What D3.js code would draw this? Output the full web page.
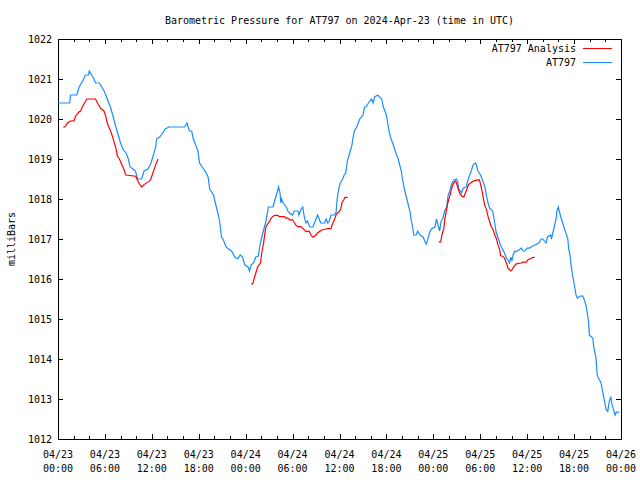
<!DOCTYPE html>
<html>
<head>
<meta charset="utf-8">
<script src="https://cdn.jsdelivr.net/npm/d3@7"></script>
<style>
body { margin: 0; background: #fff; }
text { font-family: "DejaVu Sans Mono", monospace; font-size: 10px; fill: #000; }
</style>
</head>
<body>
<div id="chart"></div>
<script>
// x = hours since 2024-04-23 00:00 UTC, y = pressure in mbar
var stationData = [
  [0,1020.4],[1.5,1020.4],[1.6,1020.6],[2.4,1020.6],[2.7,1020.8],[3.3,1021.0],[3.5,1021.1],[3.9,1021.1],
  [4.0,1021.2],[4.3,1021.1],[4.6,1021.0],[4.8,1020.9],[5.3,1020.9],[5.6,1020.8],[5.9,1020.7],[6.3,1020.5],
  [6.7,1020.3],[7.0,1020.1],[7.4,1019.8],[7.7,1019.6],[8.0,1019.4],[8.3,1019.25],[8.7,1019.15],[9.0,1019.0],
  [9.2,1018.8],[9.6,1018.75],[9.9,1018.7],[10.2,1018.5],[10.7,1018.5],[11.0,1018.7],[11.5,1018.75],[11.9,1018.9],
  [12.2,1019.1],[12.5,1019.3],[12.6,1019.5],[13.0,1019.55],[13.4,1019.65],[13.7,1019.75],[14.2,1019.8],[16.2,1019.8],
  [16.5,1019.9],[16.8,1019.7],[17.1,1019.7],[17.3,1019.5],[17.7,1019.3],[17.9,1019.2],[18.1,1018.9],[18.8,1018.7],
  [19.2,1018.55],[19.4,1018.25],[19.9,1018.1],[20.0,1018.0],[20.5,1017.6],[20.7,1017.4],[20.9,1017.05],[21.1,1017.0],
  [21.5,1016.8],[21.8,1016.75],[22.2,1016.7],[22.6,1016.55],[23.0,1016.5],[23.3,1016.6],[23.6,1016.55],[23.9,1016.35],
  [24.3,1016.3],[24.5,1016.2],[24.7,1016.35],[25.0,1016.4],[25.3,1016.55],[25.6,1016.57],[25.8,1016.8],[26.0,1017.0],
  [26.2,1017.15],[26.4,1017.3],[26.6,1017.45],[26.9,1017.8],[27.5,1017.8],[27.7,1017.95],[28.0,1018.15],[28.2,1018.3],
  [28.4,1018.15],[28.5,1017.9],[28.6,1018.0],[28.8,1017.9],[29.2,1017.8],[29.4,1017.7],[29.6,1017.65],[30.0,1017.6],
  [30.2,1017.7],[30.7,1017.7],[30.8,1017.6],[31.1,1017.75],[31.3,1017.8],[31.5,1017.55],[31.7,1017.4],[31.9,1017.45],
  [32.2,1017.3],[32.6,1017.3],[32.8,1017.4],[33.2,1017.6],[33.4,1017.5],[33.6,1017.4],[34.1,1017.4],[34.3,1017.5],
  [34.5,1017.4],[34.7,1017.45],[34.9,1017.6],[35.3,1017.6],[35.55,1017.65],[35.7,1018.0],[35.9,1018.25],[36.1,1018.4],
  [36.4,1018.5],[36.6,1018.6],[36.8,1018.65],[37.0,1018.95],[37.3,1019.15],[37.6,1019.35],[37.7,1019.5],[37.9,1019.7],
  [38.2,1019.8],[38.4,1019.9],[38.6,1020.0],[39.0,1020.1],[39.2,1020.3],[39.4,1020.3],[39.7,1020.4],[40.1,1020.5],
  [40.3,1020.4],[40.5,1020.55],[40.9,1020.6],[41.1,1020.55],[41.4,1020.5],[41.6,1020.3],[42.0,1020.1],[42.2,1019.85],
  [42.4,1019.65],[42.6,1019.5],[42.8,1019.4],[43.05,1019.25],[43.3,1019.1],[43.5,1019.0],[43.7,1018.85],[43.9,1018.7],
  [44.1,1018.45],[44.3,1018.25],[44.55,1018.05],[44.8,1017.85],[45.0,1017.7],[45.1,1017.55],[45.3,1017.35],[45.5,1017.1],
  [45.8,1017.1],[46.0,1017.2],[46.3,1017.1],[46.7,1017.05],[46.9,1016.95],[47.1,1016.87],[47.3,1017.0],[47.5,1017.15],
  [47.75,1017.25],[48.2,1017.3],[48.4,1017.5],[48.6,1017.35],[48.8,1017.2],[49.0,1017.45],[49.2,1017.5],[49.45,1017.7],
  [49.7,1017.8],[49.9,1018.1],[50.1,1018.2],[50.3,1018.36],[50.5,1018.44],[50.7,1018.48],[50.95,1018.5],[51.1,1018.44],
  [51.25,1018.27],[51.6,1018.15],[51.8,1018.27],[52.2,1018.3],[52.4,1018.45],[52.65,1018.6],[52.85,1018.7],[53.1,1018.86],
  [53.4,1018.9],[53.5,1018.86],[53.7,1018.7],[53.9,1018.65],[54.1,1018.57],[54.35,1018.44],[54.6,1018.3],[54.8,1018.07],
  [55.0,1017.9],[55.2,1017.77],[55.4,1017.73],[55.6,1017.69],[55.85,1017.4],[56.05,1017.15],[56.3,1017.02],[56.5,1016.9],
  [56.7,1016.8],[56.9,1016.73],[57.1,1016.65],[57.35,1016.52],[57.55,1016.48],[57.75,1016.4],[57.9,1016.55],[58.05,1016.45],
  [58.2,1016.6],[58.4,1016.69],[58.6,1016.69],[59.0,1016.73],[59.25,1016.77],[59.5,1016.7],[59.7,1016.7],[60.0,1016.77],
  [60.3,1016.77],[60.5,1016.8],[61.0,1016.85],[61.5,1016.9],[61.8,1017.0],[62.0,1017.0],[62.2,1016.95],[62.4,1016.9],
  [62.6,1017.05],[63.0,1017.1],[63.1,1017.0],[63.4,1017.25],[63.7,1017.5],[63.8,1017.7],[64.0,1017.8],[64.1,1017.7],
  [64.3,1017.55],[64.55,1017.4],[64.75,1017.27],[64.95,1017.15],[65.2,1017.0],[65.3,1016.77],[65.5,1016.57],[65.6,1016.36],
  [65.8,1016.1],[65.95,1015.94],[66.1,1015.77],[66.25,1015.6],[66.45,1015.52],[66.7,1015.57],[67.1,1015.58],[67.3,1015.48],
  [67.5,1015.36],[67.65,1015.19],[67.85,1014.94],[67.95,1014.6],[68.4,1014.52],[68.5,1014.32],[68.8,1014.02],[68.95,1013.61],
  [69.1,1013.52],[69.25,1013.48],[69.45,1013.4],[69.65,1013.19],[69.9,1012.94],[70.1,1012.73],[70.3,1012.69],[70.5,1012.94],
  [70.7,1013.06],[70.8,1012.9],[71.05,1012.73],[71.25,1012.6],[71.4,1012.67],[71.8,1012.67]
];

// analysis runs, null = gap between runs
var analysisData = [
  [0.65,1019.8],[0.9,1019.8],[1.2,1019.9],[1.6,1019.95],[2.05,1019.96],[2.25,1020.07],[2.7,1020.18],[2.9,1020.2],
  [3.1,1020.3],[3.55,1020.45],[3.7,1020.5],[4.8,1020.5],[5.05,1020.4],[5.45,1020.27],[5.7,1020.23],[5.9,1020.19],
  [6.1,1020.07],[6.3,1019.9],[6.5,1019.8],[6.75,1019.69],[6.95,1019.57],[7.15,1019.44],[7.4,1019.27],[7.6,1019.07],
  [7.8,1019.02],[8.0,1018.94],[8.25,1018.82],[8.45,1018.73],[8.65,1018.6],[9.95,1018.57],[10.15,1018.47],[10.35,1018.4],
  [10.7,1018.3],[11.0,1018.36],[11.65,1018.44],[11.85,1018.48],[12.05,1018.6],[12.5,1018.86],[12.8,1019.0],
  null,
  [24.7,1015.88],[24.9,1015.88],[25.1,1016.02],[25.3,1016.15],[25.55,1016.31],[25.9,1016.4],[26.05,1016.65],[26.3,1016.9],
  [26.4,1017.07],[26.6,1017.31],[26.75,1017.36],[27.05,1017.44],[27.25,1017.52],[27.45,1017.56],[27.7,1017.59],[28.1,1017.59],
  [28.3,1017.56],[28.95,1017.56],[29.15,1017.52],[29.4,1017.52],[29.6,1017.48],[30.0,1017.48],[30.25,1017.4],[30.45,1017.34],
  [30.65,1017.31],[31.05,1017.31],[31.3,1017.27],[31.5,1017.23],[31.7,1017.19],[32.15,1017.19],[32.35,1017.1],[32.55,1017.05],
  [32.8,1017.07],[33.0,1017.1],[33.2,1017.15],[33.45,1017.19],[33.65,1017.22],[34.25,1017.25],[34.5,1017.26],[34.9,1017.26],
  [35.15,1017.4],[35.35,1017.48],[35.55,1017.6],[35.75,1017.65],[36.0,1017.69],[36.2,1017.77],[36.3,1017.9],[36.55,1017.98],
  [36.7,1018.04],[37.05,1018.04],
  null,
  [48.7,1016.93],[48.95,1016.93],[49.1,1017.1],[49.35,1017.27],[49.45,1017.48],[49.65,1017.69],[49.85,1017.9],[50.1,1018.07],
  [50.3,1018.23],[50.5,1018.36],[50.75,1018.44],[50.85,1018.45],[50.95,1018.4],[51.15,1018.27],[51.35,1018.15],[51.65,1018.07],
  [51.9,1018.05],[52.1,1018.15],[52.35,1018.27],[52.5,1018.36],[52.75,1018.4],[53.05,1018.44],[53.5,1018.47],[53.9,1018.48],
  [54.15,1018.27],[54.35,1018.07],[54.55,1017.86],[54.8,1017.73],[55.0,1017.56],[55.2,1017.44],[55.4,1017.31],[55.65,1017.23],
  [55.85,1017.1],[56.05,1017.02],[56.25,1016.86],[56.5,1016.73],[56.6,1016.58],[56.9,1016.57],[57.1,1016.52],[57.35,1016.4],
  [57.55,1016.27],[57.9,1016.2],[58.05,1016.23],[58.3,1016.31],[58.6,1016.38],[59.25,1016.4],[59.5,1016.42],[59.9,1016.42],
  [60.1,1016.48],[60.55,1016.52],[60.75,1016.54],[60.95,1016.54]
];

var xTickHours = [0, 6, 12, 18, 24, 30, 36, 42, 48, 54, 60, 66, 72];
var xTickDays = ["04/23","04/23","04/23","04/23","04/24","04/24","04/24","04/24","04/25","04/25","04/25","04/25","04/26"];
var xTickTimes = ["00:00","06:00","12:00","18:00","00:00","06:00","12:00","18:00","00:00","06:00","12:00","18:00","00:00"];
var yTicks = [1012, 1013, 1014, 1015, 1016, 1017, 1018, 1019, 1020, 1021, 1022];

var svgWidth = 640;
var svgHeight = 480;
var margin = { top: 39, right: 19, bottom: 41, left: 58 };
var w = svgWidth - margin.left - margin.right;
var h = svgHeight - margin.top - margin.bottom;

var svg = d3.select("#chart")
    .append("svg")
    .attr("width", svgWidth)
    .attr("height", svgHeight);

var chartGroup = svg.append("g")
    .attr("transform", `translate(${margin.left}, ${margin.top})`);

var x = d3.scaleLinear().domain([0, 72]).range([0, w]);
var y = d3.scaleLinear().domain([1012, 1022]).range([h, 0]);

var minorHours = d3.range(0, 73, 2);

// ticks on all four sides, pointing inward (gnuplot style)
function tickGroup(axis, tx, ty) {
    var g = chartGroup.append("g")
        .attr("transform", `translate(${tx}, ${ty})`)
        .call(axis);
    g.select(".domain").remove();
    g.selectAll("line").attr("shape-rendering", "crispEdges");
    return g;
}

tickGroup(d3.axisBottom(x).tickValues(minorHours).tickSize(-3).tickFormat(""), 0, h);
tickGroup(d3.axisBottom(x).tickValues(xTickHours).tickSize(-5).tickFormat(""), 0, h);
tickGroup(d3.axisTop(x).tickValues(minorHours).tickSize(-3).tickFormat(""), 0, 0);
tickGroup(d3.axisTop(x).tickValues(xTickHours).tickSize(-5).tickFormat(""), 0, 0);
tickGroup(d3.axisRight(y).tickValues(yTicks).tickSize(-5).tickFormat(""), w, 0);

var leftAxis = tickGroup(d3.axisLeft(y).tickValues(yTicks).tickSize(-5).tickPadding(6).tickFormat(d3.format("d")), 0, 0);
leftAxis.selectAll("text")
    .style("font-family", "'DejaVu Sans Mono', monospace")
    .style("font-size", "10px");

// two line date / time labels
var xLabels = chartGroup.append("g")
    .selectAll("text")
    .data(xTickHours)
    .enter()
    .append("text")
    .attr("text-anchor", "middle")
    .attr("transform", d => `translate(${x(d)}, ${h + 19})`);
xLabels.append("tspan").attr("x", 0).attr("y", 0).text((d, i) => xTickDays[i]);
xLabels.append("tspan").attr("x", 0).attr("y", 14).text((d, i) => xTickTimes[i]);

// frame
chartGroup.append("rect")
    .attr("x", 0.5)
    .attr("y", 0.5)
    .attr("width", w)
    .attr("height", h)
    .attr("fill", "none")
    .attr("stroke", "#000")
    .attr("shape-rendering", "crispEdges");

var line = d3.line()
    .defined(d => d !== null)
    .x(d => x(d[0]))
    .y(d => y(d[1]));

chartGroup.append("path")
    .datum(stationData)
    .attr("d", line)
    .attr("fill", "none")
    .attr("stroke", "#1a8cff")
    .attr("stroke-width", 1.2);

chartGroup.append("path")
    .datum(analysisData)
    .attr("d", line)
    .attr("fill", "none")
    .attr("stroke", "#ff0000")
    .attr("stroke-width", 1.2);

// title and y label
svg.append("text")
    .attr("x", margin.left + w / 2)
    .attr("y", 24)
    .attr("text-anchor", "middle")
    .text("Barometric Pressure for AT797 on 2024-Apr-23 (time in UTC)");

svg.append("text")
    .attr("transform", `translate(15, ${margin.top + h / 2}) rotate(-90)`)
    .attr("text-anchor", "middle")
    .text("milliBars");

// legend
var legendItems = [["AT797 Analysis", "#ff0000"], ["AT797", "#1a8cff"]];
var legend = svg.append("g")
    .selectAll("g")
    .data(legendItems)
    .enter()
    .append("g")
    .attr("transform", (d, i) => `translate(576, ${48 + i * 14})`);
legend.append("text")
    .attr("x", 0)
    .attr("y", 4)
    .attr("text-anchor", "end")
    .text(d => d[0]);
legend.append("line")
    .attr("x1", 7)
    .attr("x2", 36)
    .attr("y1", 0.5)
    .attr("y2", 0.5)
    .attr("stroke", d => d[1])
    .attr("shape-rendering", "crispEdges");
</script>
</body>
</html>
